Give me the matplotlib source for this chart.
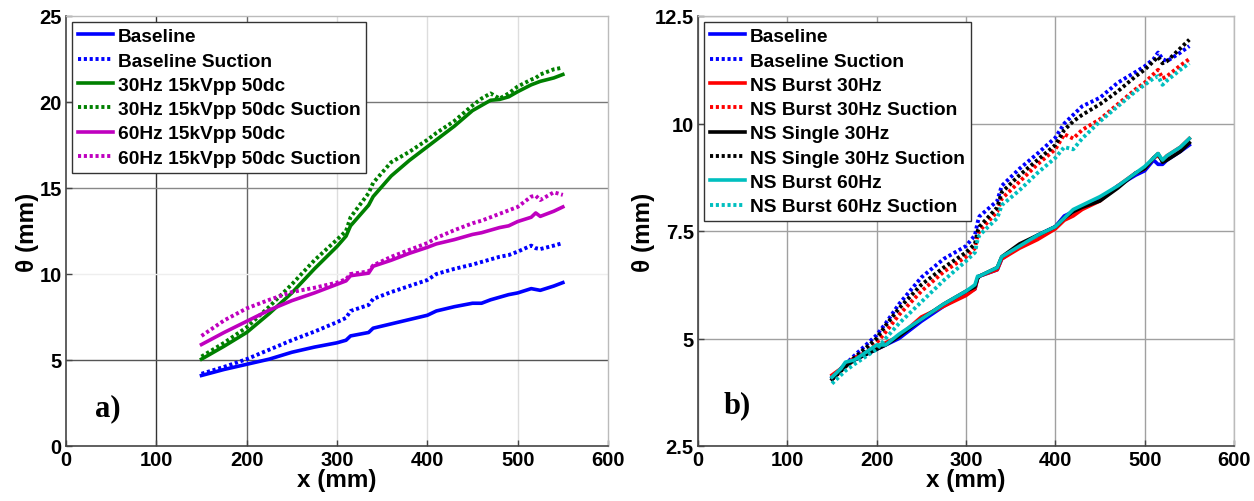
import matplotlib
matplotlib.use("Agg")
import matplotlib.pyplot as plt
import numpy as np

plt.rcParams['font.family'] = ['Liberation Sans', 'DejaVu Sans']
plt.rcParams['font.weight'] = 'bold'

# ---------------- Panel a data ----------------
xa = [150, 175, 200, 225, 250, 275, 300, 310, 315, 335, 340, 360, 380, 400, 410,
      430, 450, 460, 470, 480, 490, 500, 515, 520, 525, 540, 550]
a_baseline = [4.1, 4.45, 4.75, 5.05, 5.45, 5.75, 6.0, 6.15, 6.4, 6.6, 6.85, 7.1, 7.35, 7.6, 7.85,
              8.1, 8.3, 8.3, 8.5, 8.65, 8.8, 8.9, 9.15, 9.1, 9.05, 9.3, 9.5]
a_baseline_s = [4.2, 4.6, 5.05, 5.6, 6.15, 6.65, 7.2, 7.45, 7.85, 8.2, 8.55, 8.95, 9.3, 9.65, 10.0,
                10.3, 10.55, 10.7, 10.85, 11.0, 11.1, 11.3, 11.65, 11.5, 11.45, 11.65, 11.8]
a_30 = [5.05, 5.8, 6.6, 7.7, 8.9, 10.3, 11.6, 12.2, 12.8, 14.0, 14.5, 15.7, 16.6, 17.4, 17.8,
        18.6, 19.5, 19.8, 20.1, 20.15, 20.3, 20.6, 21.0, 21.1, 21.2, 21.4, 21.6]
a_30_s = [5.2, 6.0, 6.9, 8.1, 9.4, 10.8, 12.0, 12.5, 13.3, 14.7, 15.3, 16.5, 17.1, 17.8, 18.2,
          18.9, 19.8, 20.2, 20.5, 20.2, 20.5, 20.9, 21.3, 21.4, 21.6, 21.9, 22.0]
a_60 = [5.9, 6.6, 7.25, 7.9, 8.45, 8.9, 9.4, 9.6, 9.9, 10.05, 10.45, 10.8, 11.2, 11.55, 11.75,
        12.0, 12.3, 12.4, 12.55, 12.7, 12.8, 13.05, 13.3, 13.55, 13.35, 13.65, 13.9]
a_60_s = [6.4, 7.3, 8.0, 8.5, 8.95, 9.2, 9.5, 9.7, 10.0, 10.15, 10.5, 11.0, 11.4, 11.8, 12.1,
          12.55, 12.95, 13.1, 13.3, 13.5, 13.7, 13.9, 14.5, 14.55, 14.3, 14.75, 14.6]
a_labels = ["Baseline", "Baseline Suction", "30Hz 15kVpp 50dc", "30Hz 15kVpp 50dc Suction",
            "60Hz 15kVpp 50dc", "60Hz 15kVpp 50dc Suction"]

# ---------------- Panel b data ----------------
xb = [150, 160, 165, 175, 200, 210, 225, 250, 275, 300, 310, 313, 315, 335, 340, 360, 380,
      400, 410, 420, 430, 450, 470, 490, 500, 510, 515, 520, 525, 540, 550]
b_baseline = [4.1, 4.3, 4.4, 4.5, 4.75, 4.85, 5.0, 5.4, 5.75, 6.05, 6.15, 6.4, 6.45, 6.6, 6.85, 7.15, 7.4,
              7.6, 7.85, 7.95, 8.05, 8.25, 8.55, 8.8, 8.9, 9.15, 9.05, 9.05, 9.15, 9.35, 9.5]
b_baseline_s = [4.1, 4.3, 4.4, 4.6, 5.08, 5.35, 5.8, 6.42, 6.85, 7.15, 7.4, 7.7, 7.84, 8.2, 8.55, 8.95, 9.3,
                9.67, 10.0, 10.2, 10.4, 10.6, 10.95, 11.2, 11.33, 11.5, 11.65, 11.5, 11.45, 11.65, 11.8]
b_burst30 = [4.15, 4.3, 4.4, 4.55, 4.8, 4.9, 5.05, 5.5, 5.75, 6.0, 6.15, 6.4, 6.45, 6.6, 6.85, 7.1, 7.3,
             7.55, 7.75, 7.85, 8.0, 8.2, 8.55, 8.85, 8.95, 9.2, 9.25, 9.15, 9.25, 9.45, 9.65]
b_burst30_s = [4.05, 4.25, 4.35, 4.5, 4.9, 5.15, 5.55, 6.1, 6.55, 6.9, 7.1, 7.4, 7.5, 7.95, 8.25, 8.65, 9.05,
               9.4, 9.75, 9.65, 9.85, 10.1, 10.45, 10.8, 10.95, 11.15, 11.25, 11.05, 11.1, 11.35, 11.5]
b_single30 = [4.05, 4.25, 4.35, 4.5, 4.75, 4.85, 5.05, 5.45, 5.8, 6.1, 6.2, 6.4, 6.45, 6.65, 6.9, 7.2, 7.4,
              7.6, 7.8, 7.95, 8.05, 8.2, 8.5, 8.85, 8.95, 9.2, 9.3, 9.1, 9.15, 9.35, 9.55]
b_single30_s = [4.05, 4.25, 4.35, 4.55, 5.0, 5.3, 5.7, 6.25, 6.65, 7.0, 7.2, 7.5, 7.6, 8.05, 8.4, 8.8, 9.15,
                9.5, 9.85, 10.05, 10.2, 10.45, 10.75, 11.1, 11.25, 11.45, 11.55, 11.4, 11.45, 11.75, 11.95]
b_burst60 = [4.1, 4.3, 4.45, 4.5, 4.85, 4.85, 5.1, 5.45, 5.8, 6.1, 6.25, 6.45, 6.45, 6.65, 6.9, 7.15, 7.4,
             7.6, 7.8, 8.0, 8.1, 8.3, 8.55, 8.85, 9.0, 9.2, 9.3, 9.15, 9.25, 9.45, 9.65]
b_burst60_s = [3.95, 4.15, 4.25, 4.4, 4.75, 5.0, 5.35, 5.85, 6.35, 6.8, 7.0, 7.3, 7.4, 7.8, 8.1, 8.45, 8.85,
               9.2, 9.45, 9.4, 9.65, 10.05, 10.4, 10.75, 10.9, 11.05, 11.1, 10.9, 11.0, 11.25, 11.4]
b_labels = ["Baseline", "Baseline Suction", "NS Burst 30Hz", "NS Burst 30Hz Suction",
            "NS Single 30Hz", "NS Single 30Hz Suction", "NS Burst 60Hz", "NS Burst 60Hz Suction"]

BLUE, GREEN, MAG = "#0000ff", "#008000", "#bf00bf"
RED, BLACK, CYAN = "#ff0000", "#000000", "#00bfbf"
DOT = (0, (0.8, 0.7))
LW_S, LW_D = 2.6, 2.8

fig = plt.figure(figsize=(12.54, 5.02), dpi=100)
axa = fig.add_axes([66/1254, 1-447/502, (608-66)/1254, 430/502])
axb = fig.add_axes([698/1254, 1-447/502, (1234-698)/1254, 430/502])

def style_axes(ax):
    for side in ['top', 'right']:
        ax.spines[side].set_color('#bbbbbb')
        ax.spines[side].set_linewidth(1.0)
    for side in ['left', 'bottom']:
        ax.spines[side].set_color('#444444')
        ax.spines[side].set_linewidth(1.2)
    ax.tick_params(direction='in', length=4, width=1, colors='#444444', labelsize=14.5,
                   labelcolor='black', pad=3)
    for lab in ax.get_xticklabels() + ax.get_yticklabels():
        lab.set_fontweight('bold')
    ax.set_xlabel("x (mm)", fontsize=17.5, fontweight='bold', labelpad=-1)
    ax.set_ylabel("θ (mm)", fontsize=17.5, fontweight='bold', labelpad=0)

def make_legend(ax):
    leg = ax.legend(loc='upper left', bbox_to_anchor=(0.011, 0.986), borderaxespad=0,
                    fontsize=13.8, handlelength=1.85, handletextpad=0.25,
                    labelspacing=0.36, borderpad=0.3,
                    fancybox=False, framealpha=1, edgecolor='#333333')
    leg.get_frame().set_linewidth(1.0)
    for t in leg.get_texts():
        t.set_fontweight('bold')
    return leg

# ---- Panel a ----
axa.plot(xa, a_baseline, color=BLUE, lw=LW_S, label=a_labels[0])
axa.plot(xa, a_baseline_s, color=BLUE, lw=LW_D, ls=DOT, label=a_labels[1])
axa.plot(xa, a_30, color=GREEN, lw=LW_S, label=a_labels[2])
axa.plot(xa, a_30_s, color=GREEN, lw=LW_D, ls=DOT, label=a_labels[3])
axa.plot(xa, a_60, color=MAG, lw=LW_S, label=a_labels[4])
axa.plot(xa, a_60_s, color=MAG, lw=LW_D, ls=DOT, label=a_labels[5])
axa.set_xlim(0, 600)
axa.set_ylim(0, 25)
axa.set_xticks(range(0, 601, 100))
axa.set_yticks(range(0, 26, 5))
# irregular grid shading as in reference
vcols = {100: '#333333', 200: '#666666', 300: '#dddddd', 400: '#dddddd', 500: '#dddddd'}
for xv, c in vcols.items():
    axa.axvline(xv, color=c, lw=1.0, zorder=0)
hcols = {5: '#555555', 10: '#eeeeee', 15: '#888888', 20: '#777777'}
for yv, c in hcols.items():
    axa.axhline(yv, color=c, lw=1.0, zorder=0)
style_axes(axa)
make_legend(axa)
axa.text(0.053, 0.088, "a)", transform=axa.transAxes, fontsize=22, fontweight='bold',
         family=['Liberation Serif', 'DejaVu Serif'], ha='left', va='center')

# ---- Panel b ----
axb.plot(xb, b_baseline, color=BLUE, lw=LW_S, label=b_labels[0])
axb.plot(xb, b_baseline_s, color=BLUE, lw=LW_D, ls=DOT, label=b_labels[1])
axb.plot(xb, b_burst30, color=RED, lw=LW_S, label=b_labels[2])
axb.plot(xb, b_burst30_s, color=RED, lw=LW_D, ls=DOT, label=b_labels[3])
axb.plot(xb, b_single30, color=BLACK, lw=LW_S, label=b_labels[4])
axb.plot(xb, b_single30_s, color=BLACK, lw=LW_D, ls=DOT, label=b_labels[5])
axb.plot(xb, b_burst60, color=CYAN, lw=LW_S, label=b_labels[6])
axb.plot(xb, b_burst60_s, color=CYAN, lw=LW_D, ls=DOT, label=b_labels[7])
axb.set_xlim(0, 600)
axb.set_ylim(2.5, 12.5)
axb.set_xticks(range(0, 601, 100))
axb.set_yticks([2.5, 5, 7.5, 10, 12.5])
axb.set_yticklabels(["2.5", "5", "7.5", "10", "12.5"])
axb.grid(True, color='#a0a0a0', lw=1.0, zorder=0)
axb.set_axisbelow(True)
style_axes(axb)
make_legend(axb)
axb.text(0.047, 0.095, "b)", transform=axb.transAxes, fontsize=22, fontweight='bold',
         family=['Liberation Serif', 'DejaVu Serif'], ha='left', va='center')

fig.savefig("out.png", dpi=100)
